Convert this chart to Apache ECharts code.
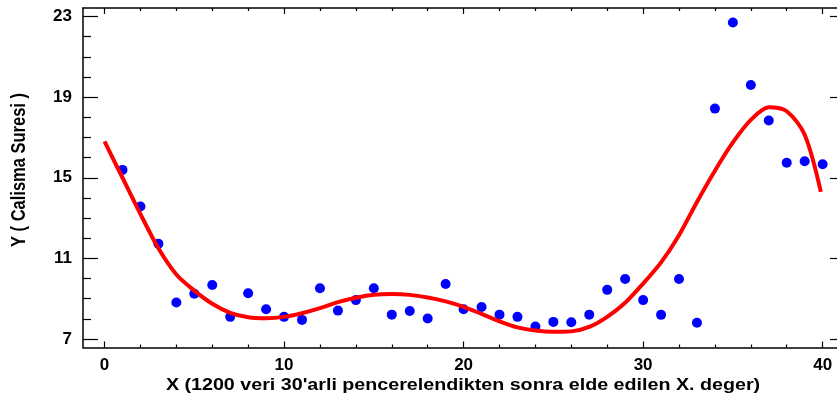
<!DOCTYPE html>
<html>
<head>
<meta charset="utf-8">
<script src="https://cdn.jsdelivr.net/npm/echarts@6/dist/echarts.min.js"></script>
<style>
html,body{margin:0;padding:0;background:#fff;}
#c{width:837px;height:403px;}
</style>
</head>
<body>
<div id="c"></div>
<script>
// Observed points
var pointX = [1,2,3,4,5,6,7,8,9,10,11,12,13,14,15,16,17,18,19,20,21,22,23,24,25,26,27,28,29,30,31,32,33,34,35,36,37,38,39,40];
var pointY = [15.39,13.57,11.73,8.81,9.25,9.68,8.10,9.27,8.48,8.10,7.95,9.52,8.41,8.93,9.52,8.21,8.39,8.02,9.73,8.48,8.59,8.21,8.10,7.62,7.85,7.83,8.21,9.44,9.98,8.93,8.20,9.98,7.81,18.43,22.70,19.60,17.84,15.74,15.82,15.67];
// Fitted curve
var curveX = [0,1,2,3,4,5,6,7,8,9,10,11,12,13,14,15,16,17,18,19,20,21,22,23,24,25,26,27,28,29,30,31,32,33,34,35,36,37,38,39,39.9];
var curveY = [16.8,15.0,13.2,11.5,10.2,9.4,8.75,8.3,8.08,8.03,8.1,8.28,8.53,8.83,9.05,9.2,9.23,9.19,9.06,8.87,8.6,8.25,7.88,7.58,7.42,7.36,7.38,7.6,8.1,8.8,9.75,10.8,12.15,13.8,15.35,16.75,17.87,18.5,18.3,17.13,14.3];
// Tick values
var xMajor = [0,10,20,30,40];
var xMinor = [2,4,6,8,12,14,16,18,22,24,26,28,32,34,36,38];
var yMajor = [7,11,15,19,23];
var yMinor = [8,9,10,12,13,14,16,17,18,20,21,22];

var X_MIN = -1.2, X_MAX = 40.8, Y_MIN = 6.58, Y_MAX = 23.42;
var FONT = '"Liberation Sans", Arial, sans-serif';
var lineStyle = {color:'#000', width:1.5};

function xAx(pos, ticks, len, showLine, showLabel){
  return {
    type:'value', position:pos, min:X_MIN, max:X_MAX,
    axisLine:{show:showLine, onZero:false, lineStyle:lineStyle},
    axisTick:{show:true, inside:true, length:len, customValues:ticks, lineStyle:{color:'#000', width:1.2}},
    axisLabel:{show:showLabel, customValues:ticks, margin:9, color:'#000', fontFamily:FONT, fontWeight:'bold', fontSize:17},
    splitLine:{show:false}
  };
}
function yAx(pos, ticks, len, showLine, showLabel){
  return {
    type:'value', position:pos, min:Y_MIN, max:Y_MAX,
    axisLine:{show:showLine, onZero:false, lineStyle:lineStyle},
    axisTick:{show:true, inside:true, length:len, customValues:ticks, lineStyle:{color:'#000', width:1.2}},
    axisLabel:{show:showLabel, customValues:ticks, margin:11, color:'#000', fontFamily:FONT, fontWeight:'bold', fontSize:17},
    splitLine:{show:false}
  };
}

var chart = echarts.init(document.getElementById('c'), null, {renderer:'canvas'});
var scatterData = pointX.map(function(x,i){return [x, pointY[i]];});
var curveData = curveX.map(function(x,i){return [x, curveY[i]];});

chart.setOption({
  animation:false,
  backgroundColor:'#fff',
  grid:{left:83, top:8, right:0, bottom:55.5, containLabel:false},
  xAxis:[
    xAx('bottom', xMajor, 6, true, true),
    xAx('bottom', xMinor, 3, false, false),
    xAx('top', xMajor, 6, true, false),
    xAx('top', xMinor, 3, false, false)
  ],
  yAxis:[
    yAx('left', yMajor, 15, true, true),
    yAx('left', yMinor, 8, false, false),
    yAx('right', yMajor, 7, false, false)
  ],
  graphic:[
    {type:'text', x:463, y:386, scaleX:1.23, style:{text:"X (1200 veri 30'arli pencerelendikten sonra elde edilen X. deger)", x:0, y:0, textAlign:'center', textVerticalAlign:'middle', font:'bold 16px '+FONT, fill:'#000'}},
    {type:'text', rotation:Math.PI/2, x:20, y:170, scaleY:1.2, style:{text:'Y ( Calisma Suresi )', x:0, y:0, textAlign:'center', textVerticalAlign:'middle', font:'bold 16.5px '+FONT, fill:'#000'}}
  ],
  series:[
    {type:'scatter', xAxisIndex:0, yAxisIndex:0, data:scatterData, symbol:'circle', symbolSize:10, itemStyle:{color:'#0000FF', opacity:1}, z:2},
    {type:'line', xAxisIndex:0, yAxisIndex:0, data:curveData, showSymbol:false, smooth:0.3, lineStyle:{color:'#FF0000', width:4}, z:3}
  ]
});
</script>
</body>
</html>
